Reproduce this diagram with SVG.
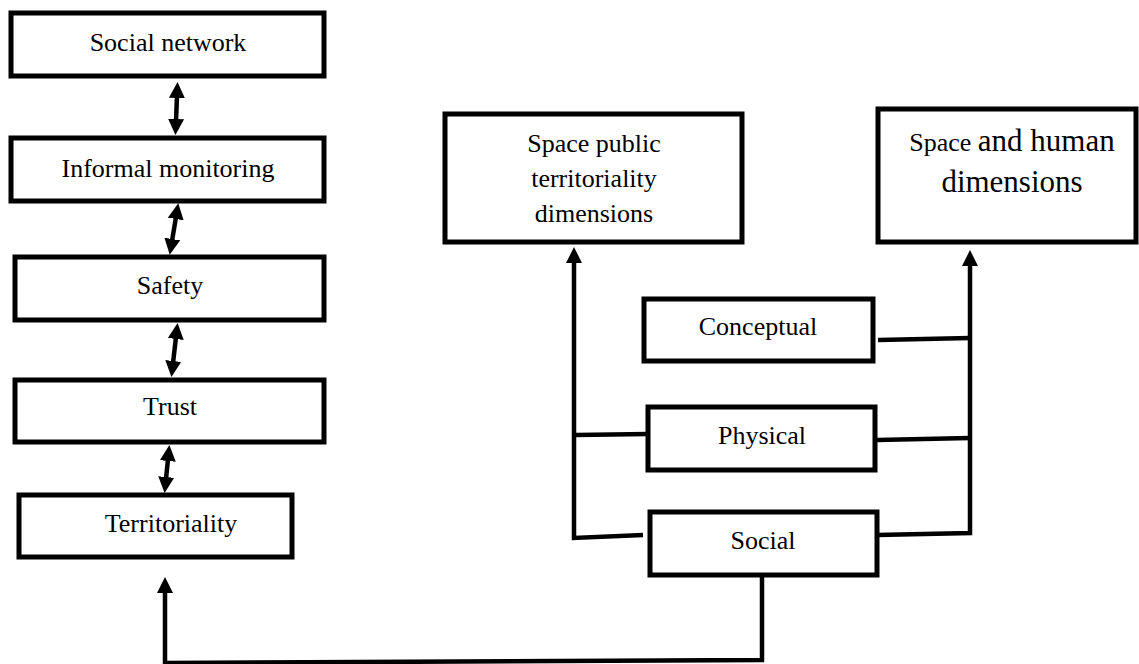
<svg xmlns="http://www.w3.org/2000/svg" width="1139" height="664" viewBox="0 0 1139 664">
<style>
.box{fill:#fff;stroke:#000;stroke-width:5}
.t{font-family:"Liberation Serif","Times New Roman",serif;font-size:26px;fill:#000;text-anchor:middle}
.big{font-size:31px}
.ln{fill:none;stroke:#000;stroke-width:4.5}
</style>
<defs>
<marker id="ah" markerUnits="userSpaceOnUse" markerWidth="18" markerHeight="18" refX="2" refY="8" orient="auto-start-reverse" viewBox="0 0 18 16">
<path d="M0,0 L16,8 L0,16 z" fill="#000"/>
</marker>
</defs>
<g id="n-social-network"><rect class="box" x="11" y="13" width="313" height="63"/><text class="t" x="168" y="51">Social network</text></g>
<g id="n-informal-monitoring"><rect class="box" x="11" y="138" width="313" height="63"/><text class="t" x="168" y="177">Informal monitoring</text></g>
<g id="n-safety"><rect class="box" x="15" y="257" width="309" height="63"/><text class="t" x="170" y="294">Safety</text></g>
<g id="n-trust"><rect class="box" x="15" y="380" width="309" height="62"/><text class="t" x="170" y="415">Trust</text></g>
<g id="n-territoriality"><rect class="box" x="19" y="495" width="273" height="62"/><text class="t" x="171" y="532">Territoriality</text></g>
<g id="n-space-public"><rect class="box" x="445" y="114" width="297" height="128"/><text class="t" x="594" y="152">Space public</text><text class="t" x="594" y="187">territoriality</text><text class="t" x="594" y="222">dimensions</text></g>
<g id="n-space-human"><rect class="box" x="878" y="109" width="258" height="133"/><text class="t" x="1012" y="151">Space <tspan class="big">and human</tspan></text><text class="t big" x="1012" y="192">dimensions</text></g>
<g id="n-conceptual"><rect class="box" x="644" y="299" width="229" height="62"/><text class="t" x="758" y="335">Conceptual</text></g>
<g id="n-physical"><rect class="box" x="648" y="407" width="227" height="63"/><text class="t" x="762" y="444">Physical</text></g>
<g id="n-social"><rect class="box" x="650" y="512" width="227" height="63"/><text class="t" x="763" y="549">Social</text></g>
<g id="connectors">
<line class="ln" x1="177" y1="96" x2="176" y2="121" marker-start="url(#ah)" marker-end="url(#ah)"/>
<line class="ln" x1="176" y1="217" x2="172" y2="241" marker-start="url(#ah)" marker-end="url(#ah)"/>
<line class="ln" x1="176" y1="337" x2="173" y2="363" marker-start="url(#ah)" marker-end="url(#ah)"/>
<line class="ln" x1="168" y1="459" x2="166" y2="479" marker-start="url(#ah)" marker-end="url(#ah)"/>
<polyline class="ln" points="643,535 574,538 574,261" marker-end="url(#ah)"/>
<line class="ln" x1="576" y1="435" x2="648" y2="434"/>
<polyline class="ln" points="762,577 762,660 165,663 165,591" marker-end="url(#ah)"/>
<line class="ln" x1="878" y1="340" x2="970" y2="338"/>
<line class="ln" x1="877" y1="440" x2="970" y2="438"/>
<polyline class="ln" points="877,535 970,533 970,264" marker-end="url(#ah)"/>
</g>
</svg>
